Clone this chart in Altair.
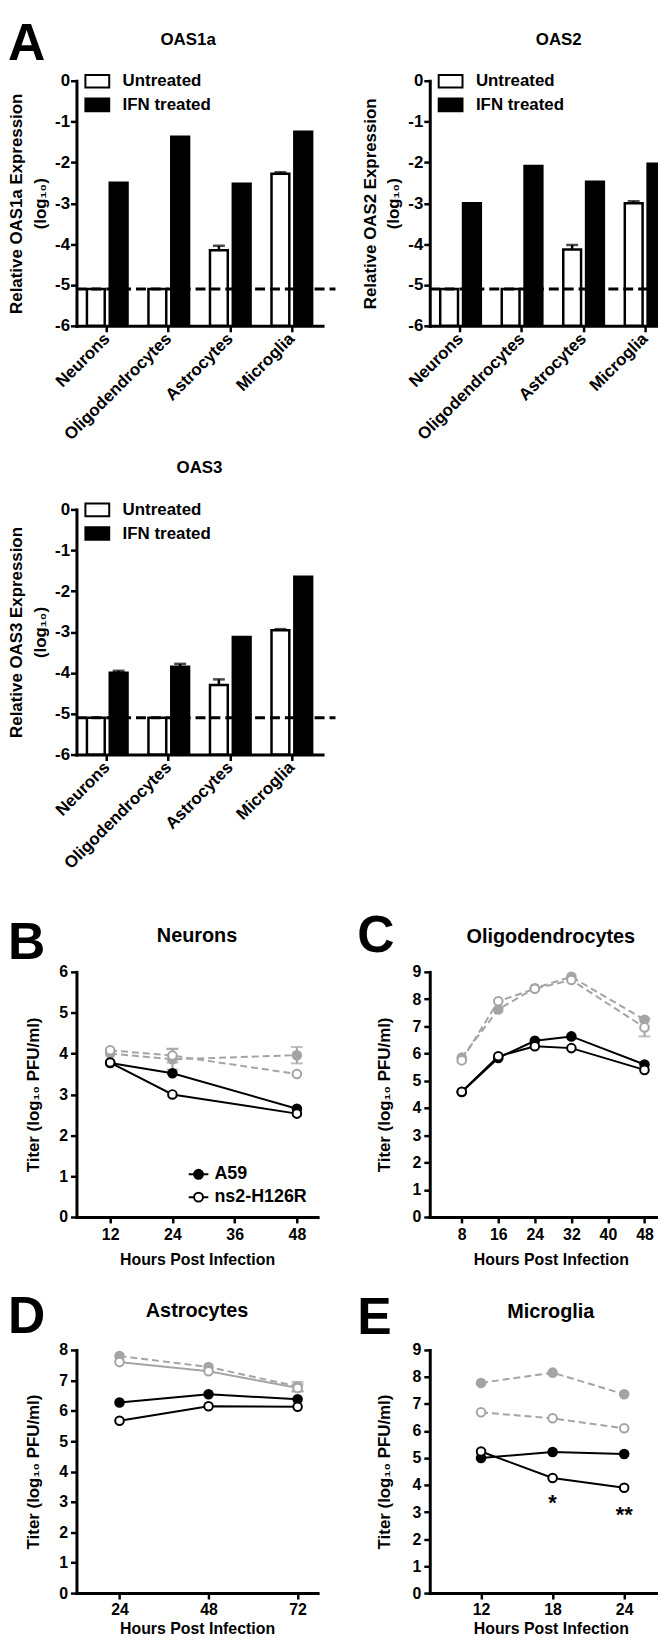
import altair as alt
import pandas as pd

FONT = "Liberation Sans"
GREY = "#a4a4a4"

# ---------------- Panel A : OAS expression ----------------
cell_types = ["Neurons", "Oligodendrocytes", "Astrocytes", "Microglia"]
treatments = ["Untreated", "IFN treated"]
detection_limit = [-5.1]

oas1a_untreated = [-5.1, -5.1, -4.15, -2.28]
oas1a_untreated_err = [0.0, 0.0, 0.11, 0.04]
oas1a_ifn = [-2.50, -1.37, -2.52, -1.25]
oas1a_ifn_err = [0.0, 0.0, 0.0, 0.0]

oas2_untreated = [-5.1, -5.1, -4.13, -3.00]
oas2_untreated_err = [0.0, 0.0, 0.11, 0.05]
oas2_ifn = [-3.00, -2.09, -2.47, -2.03]
oas2_ifn_err = [0.0, 0.0, 0.0, 0.0]

oas3_untreated = [-5.1, -5.1, -4.30, -2.96]
oas3_untreated_err = [0.0, 0.0, 0.14, 0.03]
oas3_ifn = [-4.00, -3.85, -3.12, -1.65]
oas3_ifn_err = [0.05, 0.07, 0.0, 0.0]

# ---------------- Panels B-E : virus titers ----------------
series_names = ["A59", "ns2-H126R", "A59 (grey)", "ns2-H126R (grey)"]

neurons_hours = [12, 24, 48]
neurons_a59 = [3.77, 3.52, 2.65]
neurons_ns2 = [3.78, 3.00, 2.53]
neurons_a59_grey = [4.00, 3.86, 3.96]
neurons_ns2_grey = [4.08, 3.95, 3.50]
neurons_a59_grey_err = [0.0, 0.25, 0.20]
neurons_ns2_grey_err = [0.0, 0.17, 0.0]

oligo_hours = [8, 16, 24, 32, 48]
oligo_a59 = [4.59, 5.84, 6.47, 6.63, 5.60]
oligo_ns2 = [4.60, 5.90, 6.27, 6.20, 5.40]
oligo_a59_grey = [5.85, 7.62, 8.40, 8.82, 7.24]
oligo_ns2_grey = [5.75, 7.92, 8.38, 8.70, 6.96]
oligo_a59_grey_err = [0.0, 0.0, 0.0, 0.0, 0.0]
oligo_ns2_grey_err = [0.0, 0.0, 0.0, 0.0, 0.33]

astro_hours = [24, 48, 72]
astro_a59 = [6.27, 6.54, 6.38]
astro_ns2 = [5.67, 6.15, 6.13]
astro_a59_grey = [7.80, 7.44, 6.80]
astro_ns2_grey = [7.60, 7.30, 6.75]
astro_a59_grey_err = [0.0, 0.0, 0.15]
astro_ns2_grey_err = [0.0, 0.0, 0.12]

micro_hours = [12, 18, 24]
micro_a59 = [5.00, 5.22, 5.15]
micro_ns2 = [5.24, 4.26, 3.90]
micro_a59_grey = [7.78, 8.16, 7.36]
micro_ns2_grey = [6.69, 6.47, 6.10]
micro_a59_grey_err = [0.0, 0.0, 0.0]
micro_ns2_grey_err = [0.0, 0.0, 0.0]
micro_star_hours = [18, 24]
micro_star_y = [3.33, 2.89]
micro_star_labels = ["*", "**"]

panel_letters = ["A", "B", "C", "D", "E"]
bar_titles = ["OAS1a", "OAS2", "OAS3"]
line_titles = ["Neurons", "Oligodendrocytes", "Astrocytes", "Microglia"]
x_title = "Hours Post Infection"
titer_title = "Titer (log\u2081\u2080 PFU/ml)"

RECT_PATH = "M-1.6,-0.85H1.6V0.85H-1.6Z"
LEG_PATH = ("M-1.1,0H-0.5M0.5,0H1.1M-0.5,0A0.5,0.5,0,1,0,0.5,0"
            "A0.5,0.5,0,1,0,-0.5,0Z")

AX = dict(domainColor="black", domainWidth=3, tickColor="black", tickWidth=2.5,
          labelColor="black", titleColor="black", labelFont=FONT,
          titleFont=FONT, labelFontWeight="bold", titleFontWeight="bold",
          grid=False, domainCap="square")


def txt(text, x, y, size, align="center"):
    return alt.Chart(pd.DataFrame({"t": [text]})).mark_text(
        font=FONT, fontSize=size, fontWeight="bold", align=align,
        baseline="alphabetic", color="black"
    ).encode(text="t:N", x=alt.value(x), y=alt.value(y))


def spacer(w, h, letter=None, lx=0, ly=0):
    if letter:
        c = txt(letter, lx, ly, 52, align="left")
    else:
        c = alt.Chart(pd.DataFrame({"t": [""]})).mark_point(
            opacity=0, size=1).encode(x=alt.value(0), y=alt.value(0))
    return c.properties(width=w, height=h)


BAR_W, BAR_H = 248, 247


def bar_panel(name, unt, unt_err, ifn, ifn_err, title_x, title_y, rule_end):
    df = pd.DataFrame({
        "cell": cell_types + cell_types,
        "treatment": [treatments[0]] * 4 + [treatments[1]] * 4,
        "value": unt + ifn,
        "err": unt_err + ifn_err,
    })
    df["hi"] = df["value"] + df["err"]
    edf = df[df["err"] > 0]
    xscale = alt.Scale(paddingInner=0.34, paddingOuter=0.17)
    oscale = alt.Scale(domain=treatments, paddingInner=0.22, paddingOuter=0)
    yscale = alt.Scale(domain=[-6, 0], nice=False, zero=False)
    xaxis = alt.Axis(title=None, labelAngle=-45, labelAlign="right",
                     labelBaseline="middle", labelFontSize=17, labelPadding=4,
                     tickSize=6, labelOverlap=False, labelLimit=0, **AX)
    yaxis = alt.Axis(title=[f"Relative {name} Expression", "(log\u2081\u2080)"],
                     titleX=-55, titleY=BAR_H / 2, titleAngle=270,
                     titleAlign="center", titleBaseline="alphabetic",
                     titleFontSize=17, titleLineHeight=24,
                     values=list(range(-6, 1)), labelExpr="'' + datum.value",
                     labelFontSize=17, labelPadding=1, tickSize=6,
                     labelOverlap=False, **AX)
    X = alt.X("cell:N", sort=cell_types, scale=xscale, axis=xaxis)
    XO = alt.XOffset("treatment:N", sort=treatments, scale=oscale)
    legend = alt.Legend(title=None, orient="none", legendX=12.5, legendY=-8,
                        symbolType=RECT_PATH, symbolSize=225,
                        symbolStrokeColor="black", symbolStrokeWidth=2,
                        labelFont=FONT, labelFontSize=17, labelFontWeight="bold",
                        labelColor="black", labelOffset=17, rowPadding=2.8,
                        padding=0)
    bars = alt.Chart(df).mark_bar(stroke="black", strokeWidth=2.5).encode(
        x=X, xOffset=XO,
        y=alt.Y("value:Q", scale=yscale, axis=yaxis),
        y2=alt.datum(-6),
        fill=alt.Fill("treatment:N", sort=treatments,
                      scale=alt.Scale(domain=treatments, range=["white", "black"]),
                      legend=legend),
    )
    limit = alt.Chart(pd.DataFrame({"v": detection_limit})).mark_rule(
        color="black", strokeWidth=3, strokeDash=[10, 5]).encode(
        y=alt.Y("v:Q", scale=yscale, axis=yaxis),
        x=alt.value(0), x2=alt.value(rule_end))
    err = alt.Chart(edf).mark_rule(color="black", strokeWidth=2.5).encode(
        x=X, xOffset=XO, y=alt.Y("value:Q", scale=yscale, axis=yaxis), y2="hi:Q")
    cap = alt.Chart(edf).mark_tick(color="black", orient="horizontal", size=12,
                                   thickness=2.5).encode(
        x=X, xOffset=XO, y=alt.Y("hi:Q", scale=yscale, axis=yaxis))
    title = txt(name, title_x, title_y, 17)
    return alt.layer(bars, limit, err, cap, title).properties(width=BAR_W, height=BAR_H)


def line_panel(title, hours, a59, ns2, a59g, ns2g, a59g_err, ns2g_err, ns2g_dash,
               ymax, xdomain, xticks, W, H, ytitle_x, title_y, xtitle_y, xlab_pad,
               legend=None, stars=None):
    rows = []
    errs = []
    for s, vals, ev in [(series_names[2], a59g, a59g_err),
                        (series_names[3], ns2g, ns2g_err),
                        (series_names[0], a59, None),
                        (series_names[1], ns2, None)]:
        for i, (h, v) in enumerate(zip(hours, vals)):
            rows.append({"hours": h, "series": s, "value": v})
            if ev is not None and ev[i] > 0:
                errs.append({"hours": h, "lo": v - ev[i], "hi": v + ev[i]})
    df = pd.DataFrame(rows)
    dash_map = {series_names[0]: "solid", series_names[1]: "solid",
                series_names[2]: "dashed", series_names[3]: ns2g_dash}
    df["dash"] = df["series"].map(dash_map)
    edf = pd.DataFrame(errs, columns=["hours", "lo", "hi"])
    cdf = pd.DataFrame({"hours": list(edf["hours"]) * 2,
                        "y": list(edf["lo"]) + list(edf["hi"])})

    xscale = alt.Scale(domain=xdomain, nice=False, zero=False)
    yscale = alt.Scale(domain=[0, ymax], nice=False, zero=False)
    xaxis = alt.Axis(values=xticks, title=x_title, titleY=xtitle_y,
                     titleBaseline="alphabetic", titleFontSize=16,
                     labelFontSize=16, labelPadding=xlab_pad, tickSize=6,
                     labelFlush=False, labelOverlap=False, format="d", **AX)
    yaxis = alt.Axis(values=list(range(0, ymax + 1)), title=titer_title,
                     titleX=ytitle_x, titleY=H / 2, titleAngle=270,
                     titleAlign="center", titleBaseline="alphabetic",
                     titleFontSize=17, labelFontSize=16, labelPadding=3,
                     tickSize=6, labelOverlap=False, format="d", **AX)
    X = alt.X("hours:Q", scale=xscale, axis=xaxis)
    Y = alt.Y("value:Q", scale=yscale, axis=yaxis)

    grey = [series_names[2], series_names[3]]
    black = [series_names[0], series_names[1]]
    base = alt.Chart(df)
    grey_lines = base.transform_filter(
        alt.FieldOneOfPredicate(field="series", oneOf=grey)
    ).mark_line(color=GREY, strokeWidth=2).encode(
        x=X, y=Y, detail="series:N",
        strokeDash=alt.StrokeDash("dash:N", scale=alt.Scale(
            domain=["solid", "dashed"], range=[[1, 0], [7, 4]]), legend=None))
    black_lines = base.transform_filter(
        alt.FieldOneOfPredicate(field="series", oneOf=black)
    ).mark_line(color="black", strokeWidth=2).encode(x=X, y=Y, detail="series:N")

    layers = []
    if len(edf):
        layers.append(alt.Chart(edf).mark_rule(color=GREY, strokeWidth=2).encode(
            x=X, y=alt.Y("lo:Q", scale=yscale, axis=yaxis), y2="hi:Q"))
        layers.append(alt.Chart(cdf).mark_tick(color=GREY, orient="horizontal",
                                               size=12, thickness=2).encode(
            x=X, y=alt.Y("y:Q", scale=yscale, axis=yaxis)))
    fill_scale = alt.Scale(domain=series_names, range=["black", "white", GREY, "white"])
    stroke_scale = alt.Scale(domain=series_names, range=["black", "black", GREY, GREY])
    pts = base.mark_point(filled=False, size=75, strokeWidth=2, opacity=1).encode(
        x=X, y=Y,
        fill=alt.Fill("series:N", scale=fill_scale, legend=legend),
        stroke=alt.Stroke("series:N", scale=stroke_scale, legend=legend))
    layers = [grey_lines] + layers + [black_lines, pts, txt(title, W / 2, title_y, 20)]
    if stars is not None:
        sdf = pd.DataFrame({"hours": stars[0], "value": stars[1], "lab": stars[2]})
        layers.append(alt.Chart(sdf).mark_text(
            font=FONT, fontSize=22, fontWeight="bold", baseline="middle",
            color="black").encode(x=X, y=Y, text="lab:N"))
    return alt.layer(*layers).properties(width=W, height=H)


oas1a = bar_panel(bar_titles[0], oas1a_untreated, oas1a_untreated_err,
                  oas1a_ifn, oas1a_ifn_err, 112.5, -36, BAR_W + 13)
oas2 = bar_panel(bar_titles[1], oas2_untreated, oas2_untreated_err,
                 oas2_ifn, oas2_ifn_err, 130, -36, BAR_W + 5)
oas3 = bar_panel(bar_titles[2], oas3_untreated, oas3_untreated_err,
                 oas3_ifn, oas3_ifn_err, 124, -37, BAR_W + 13)

b_legend = alt.Legend(title=None, orient="none", legendX=113, legendY=194,
                      values=series_names[:2], symbolType=LEG_PATH,
                      symbolSize=324, symbolStrokeWidth=2, labelFont=FONT,
                      labelFontSize=18, labelFontWeight="bold",
                      labelColor="black", labelOffset=6, rowPadding=4, padding=0)

neurons = line_panel(line_titles[0], neurons_hours, neurons_a59, neurons_ns2,
                     neurons_a59_grey, neurons_ns2_grey, neurons_a59_grey_err,
                     neurons_ns2_grey_err, "dashed", 6, [5.5, 52], [12, 24, 36, 48],
                     243, 247, -38, -30, 48, 4, legend=b_legend)
oligo = line_panel(line_titles[1], oligo_hours, oligo_a59, oligo_ns2,
                   oligo_a59_grey, oligo_ns2_grey, oligo_a59_grey_err,
                   oligo_ns2_grey_err, "dashed", 9, [1, 54],
                   [8, 16, 24, 32, 40, 48], 244, 247, -41, -29, 48, 4)
astro = line_panel(line_titles[2], astro_hours, astro_a59, astro_ns2,
                   astro_a59_grey, astro_ns2_grey, astro_a59_grey_err,
                   astro_ns2_grey_err, "solid", 8, [12.4, 77.4], [24, 48, 72],
                   243, 245, -38, -33, 41, 3)
micro = line_panel(line_titles[3], micro_hours, micro_a59, micro_ns2,
                   micro_a59_grey, micro_ns2_grey, micro_a59_grey_err,
                   micro_ns2_grey_err, "dashed", 9, [7.7, 28], [12, 18, 24],
                   244, 245, -41, -32, 41, 3,
                   stars=(micro_star_hours, micro_star_y, micro_star_labels))

RES = dict(fill="independent", stroke="independent", strokeDash="independent",
           color="independent", x="independent", y="independent")


def gap(h, widths):
    return [spacer(w, h) for w in widths]


cells = (
    [spacer(18, 247, panel_letters[0], -51, -21), oas1a, spacer(85, 247), oas2]
    + gap(185, [18, 248, 85, 248])
    + [spacer(18, 247), oas3, spacer(85, 247), spacer(248, 247)]
    + gap(219, [1, 243, 108, 244])
    + [spacer(1, 247, panel_letters[1], -51, -13), neurons,
       spacer(108, 247, panel_letters[2], 35, -20), oligo]
    + gap(134, [1, 243, 108, 244])
    + [spacer(1, 245, panel_letters[3], -51, -17), astro,
       spacer(108, 245, panel_letters[4], 35, -16), micro]
)

chart = alt.concat(*cells, columns=4, spacing=0, bounds="flush",
                   align="none").resolve_scale(**RES)

# fixed page geometry: chart origin at page (59, 75); svg 655 x 1633
chart = chart.properties(
    autosize=alt.AutoSizeParams(type="none"),
    padding={"left": 51, "top": 67, "right": 604, "bottom": 1566},
).configure(font=FONT).configure_view(stroke=None)

chart.save("out.html", embed_options={"renderer": "svg", "actions": False})
